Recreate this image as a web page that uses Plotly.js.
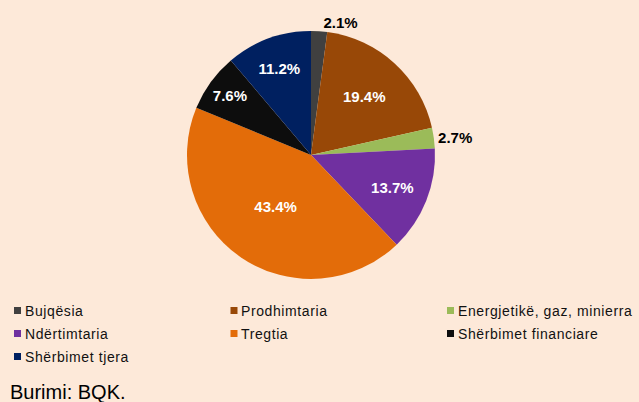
<!DOCTYPE html>
<html>
<head>
<meta charset="utf-8">
<script src="https://cdn.plot.ly/plotly-3.0.1.min.js"></script>
<style>
  html, body { margin: 0; padding: 0; background: #FDE9D9; }
  #chart { width: 639px; height: 402px; }
</style>
</head>
<body>
<div id="chart"></div>
<script>
// ---- data ----
const categories = ['Bujqësia', 'Prodhimtaria', 'Energjetikë, gaz, minierra', 'Ndërtimtaria', 'Tregtia', 'Shërbimet financiare', 'Shërbimet tjera'];
const values = [2.1, 19.4, 2.7, 13.7, 43.4, 7.6, 11.2];
const colors = ['#404040', '#984807', '#9BBB59', '#7030A0', '#E36C09', '#0D0D0D', '#002060'];
const labelPlacement = ['outside', 'inside', 'outside', 'inside', 'inside', 'inside', 'inside'];
const sourceNote = 'Burimi: BQK.';

// ---- layout helpers (pixels -> paper) ----
const W = 639, H = 402;
const px = v => v / W;
const py = v => 1 - v / H;

const cx = 311, cy = 155, R = 124;

const trace = {
  type: 'pie',
  labels: categories,
  values: values,
  sort: false,
  direction: 'clockwise',
  rotation: 0,
  marker: { colors: colors, line: { width: 0 } },
  texttemplate: '%{value:.1f}%',
  textposition: labelPlacement,
  insidetextorientation: 'horizontal',
  insidetextfont: { family: 'Arial, Liberation Sans, sans-serif', size: 15, color: '#ffffff', weight: 'bold' },
  outsidetextfont: { family: 'Arial, Liberation Sans, sans-serif', size: 15, color: '#000000', weight: 'bold' },
  hoverinfo: 'none',
  showlegend: false,
  domain: { x: [px(cx - R), px(cx + R)], y: [py(cy + R), py(cy - R)] }
};

// custom legend (3 columns)
const shapes = [];
const annotations = [];
const colStart = 14, colStep = 216.5, rowStart = 310.5, rowStep = 23, sq = 7;
categories.forEach((c, i) => {
  const col = i % 3, row = Math.floor(i / 3);
  const x = colStart + col * colStep;
  const y = rowStart + row * rowStep;
  shapes.push({
    type: 'rect', xref: 'paper', yref: 'paper',
    x0: px(x), x1: px(x + sq), y0: py(y + sq / 2), y1: py(y - sq / 2),
    fillcolor: colors[i], line: { width: 0 }
  });
  annotations.push({
    xref: 'paper', yref: 'paper', x: px(x + 8.5), y: py(y + 0.5),
    xanchor: 'left', yanchor: 'middle', showarrow: false,
    text: '<span style="letter-spacing:0.6px">' + c + '</span>',
    font: { family: 'Arial, Liberation Sans, sans-serif', size: 14, color: '#111111' }
  });
});
annotations.push({
  xref: 'paper', yref: 'paper', x: px(8), y: py(391.5),
  xanchor: 'left', yanchor: 'middle', showarrow: false,
  text: sourceNote,
  font: { family: 'Arial, Liberation Sans, sans-serif', size: 20, color: '#000000' }
});

const layout = {
  width: W, height: H,
  margin: { l: 0, r: 0, t: 0, b: 0 },
  paper_bgcolor: '#FDE9D9',
  plot_bgcolor: '#FDE9D9',
  showlegend: false,
  shapes: shapes,
  annotations: annotations
};

Plotly.newPlot('chart', [trace], layout, { displayModeBar: false, staticPlot: true });
</script>
</body>
</html>
